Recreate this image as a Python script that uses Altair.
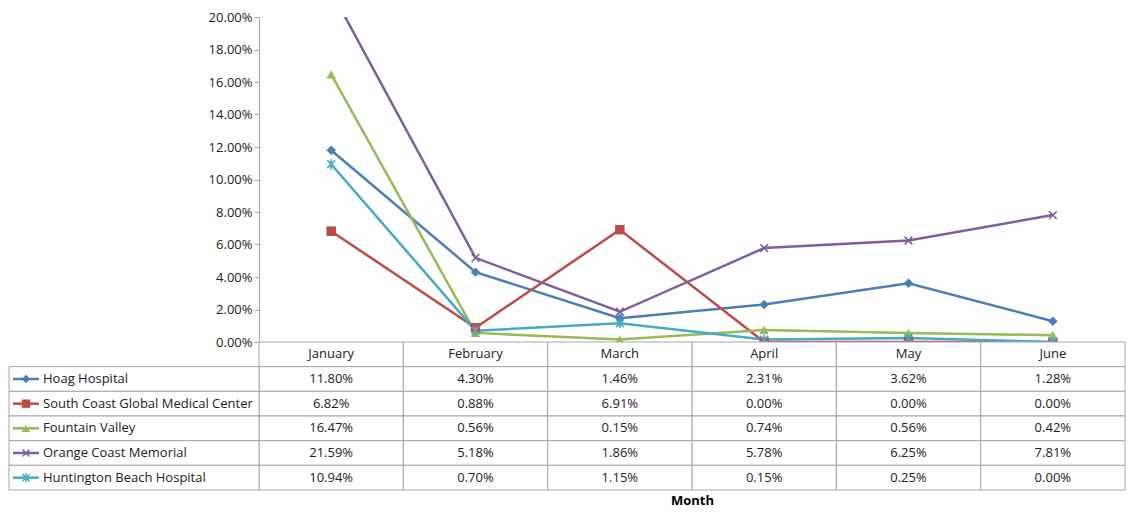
import altair as alt
import pandas as pd

MONTHS = ["January", "February", "March", "April", "May", "June"]
SERIES = [
    "Hoag Hospital",
    "South Coast Global Medical Center",
    "Fountain Valley",
    "Orange Coast Memorial",
    "Huntington Beach Hospital",
]
VALUES = {
    "Hoag Hospital": [11.80, 4.30, 1.46, 2.31, 3.62, 1.28],
    "South Coast Global Medical Center": [6.82, 0.88, 6.91, 0.00, 0.00, 0.00],
    "Fountain Valley": [16.47, 0.56, 0.15, 0.74, 0.56, 0.42],
    "Orange Coast Memorial": [21.59, 5.18, 1.86, 5.78, 6.25, 7.81],
    "Huntington Beach Hospital": [10.94, 0.70, 1.15, 0.15, 0.25, 0.00],
}
COLOURS = ["#4A7EBB", "#BE4B48", "#98B954", "#7D5FA0", "#46AAC5"]
XSHAPE = "M-1,-1L1,1M-1,1L1,-1"
STAR = "M-1,-1L1,1M-1,1L1,-1M0,-1.3L0,1.3"
SHAPES = ["diamond", "square", "triangle-up", XSHAPE, STAR]
FILLED = SERIES[:3]
OPEN = SERIES[3:]
FONT = "Open Sans"
GRID = "#A6A6A6"

rows = []
for s in SERIES:
    for m, v in zip(MONTHS, VALUES[s]):
        rows.append({"series": s, "month": m, "value": v / 100, "label": f"{v:.2f}%"})
df = pd.DataFrame(rows)

colour = alt.Color("series:N", scale=alt.Scale(domain=SERIES, range=COLOURS), legend=None)
shape = alt.Shape("series:N", scale=alt.Scale(domain=SERIES, range=SHAPES), legend=None)
xband = alt.Scale(domain=MONTHS, paddingInner=0, paddingOuter=0)

# ── line chart ──
base = alt.Chart(df).encode(
    x=alt.X("month:N", sort=MONTHS, scale=alt.Scale(domain=MONTHS, padding=0.5), axis=None),
    y=alt.Y(
        "value:Q",
        scale=alt.Scale(domain=[0, 0.2]),
        axis=alt.Axis(format=".2%", values=[i / 50 for i in range(11)], grid=False,
                      domainColor=GRID, tickColor=GRID, labelColor="#222", labelFontSize=13,
                      labelFont=FONT, title=None, tickSize=5),
    ),
    color=colour,
)
lines = base.mark_line(strokeWidth=2.5, clip=True)
pts_f = base.transform_filter(alt.FieldOneOfPredicate(field="series", oneOf=FILLED)).mark_point(
    size=90, filled=True, clip=True, opacity=1).encode(shape=shape)
pts_o = base.transform_filter(alt.FieldOneOfPredicate(field="series", oneOf=OPEN)).mark_point(
    size=60, filled=False, strokeWidth=1.6, clip=True, opacity=1).encode(shape=shape)
top = alt.layer(lines, pts_f, pts_o).properties(width=866, height=325)

# ── data table ──
header = pd.DataFrame({"series": [""] * 6, "month": MONTHS, "label": MONTHS})
cells = pd.concat([header, df[["series", "month", "label"]]], ignore_index=True)
names = pd.DataFrame({"series": SERIES})
ydom = [""] + SERIES
yband = alt.Scale(domain=ydom, paddingInner=0, paddingOuter=0)

tx = alt.X("month:N", sort=MONTHS, scale=xband,
           axis=alt.Axis(labels=False, ticks=False, domain=False, title="Month",
                         titleFont=FONT, titleFontSize=13, titleFontWeight="bold",
                         titlePadding=4))
ty = alt.Y("series:N", scale=yband, axis=None)

tb = alt.Chart(cells).encode(x=tx, y=ty)
rects = tb.mark_rect(fill="white", stroke=GRID, strokeWidth=1)
texts = tb.mark_text(font=FONT, fontSize=13, color="#222").encode(text="label:N")

nb = alt.Chart(names).encode(y=ty)
name_rect = nb.mark_rect(fill="white", stroke=GRID, strokeWidth=1).encode(
    x=alt.value(-250), x2=alt.value(0))
name_text = nb.mark_text(font=FONT, fontSize=13, color="#222", align="left").encode(
    x=alt.value(-216), text="series:N")
key_line = nb.mark_rule(strokeWidth=2.5).encode(
    x=alt.value(-246), x2=alt.value(-220), color=colour)
key_f = nb.transform_filter(alt.FieldOneOfPredicate(field="series", oneOf=FILLED)).mark_point(
    size=70, filled=True, opacity=1).encode(x=alt.value(-233), color=colour, shape=shape)
key_o = nb.transform_filter(alt.FieldOneOfPredicate(field="series", oneOf=OPEN)).mark_point(
    size=50, filled=False, strokeWidth=1.5, opacity=1).encode(x=alt.value(-233), color=colour, shape=shape)

table = alt.layer(rects, texts, name_rect, name_text, key_line, key_f, key_o).properties(
    width=866, height=148)

chart = (
    alt.vconcat(top, table, spacing=0, bounds="flush")
    .resolve_scale(color="shared", shape="shared", x="independent", y="independent")
    .configure_view(stroke=None)
    .properties(padding={"left": 0, "top": 3, "right": 0, "bottom": 0})
)
chart.save("out.html", embed_options={"renderer": "svg", "actions": False})
